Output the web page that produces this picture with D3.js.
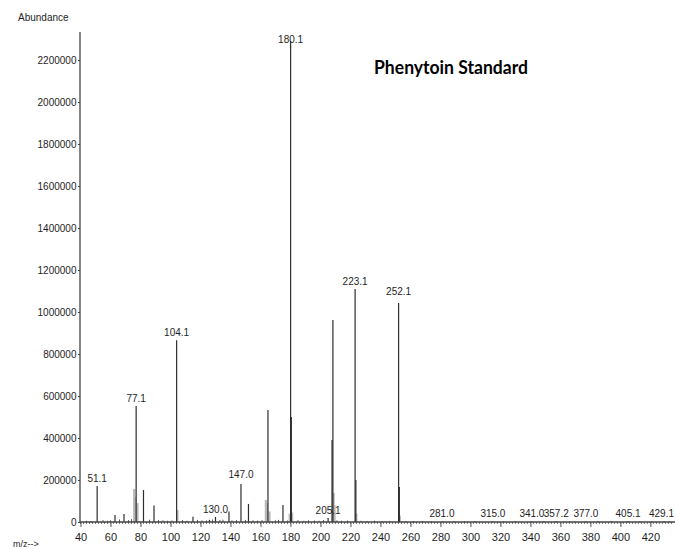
<!DOCTYPE html>
<html><head><meta charset="utf-8">
<script src="https://cdn.jsdelivr.net/npm/d3@7"></script>
<style>
body{margin:0;background:#fff}
svg{display:block}
text{font-family:"Liberation Sans",Arial,sans-serif;fill:#1e1e1e}
</style>
</head><body>
<svg id="c" width="675" height="549"></svg>
<script>
// ---- data ----
const peakMz    = [51.1, 63, 69, 77.1, 82, 89, 104.1, 115, 126, 130.0, 139, 147.0, 152, 165, 175, 180.1, 180.6, 205.1, 207.7, 208.3, 223.1, 223.6, 252.1, 252.6, 281.0, 315.0, 341.0, 357.2, 377.0, 405.1, 429.1];
const peakAbund = [171000, 33000, 38000, 552000, 152000, 78000, 866000, 25000, 10000, 24000, 50000, 181000, 86000, 533000, 81000, 2290000, 500000, 19000, 390000, 962000, 1110000, 200000, 1043000, 167000, 4000, 4000, 4000, 4000, 4000, 4000, 4000];
const labelMz   = [51.1, 77.1, 104.1, 130.0, 147.0, 180.1, 205.1, 223.1, 252.1, 281.0, 315.0, 341.0, 357.2, 377.0, 405.1, 429.1];
const labelAbund= [171000, 552000, 866000, 24000, 190000, 2262000, 19000, 1110000, 1060000, 4000, 4000, 4000, 4000, 4000, 4000, 4000];
const blurMz    = [75.8, 76.6, 78, 104.6, 163.6, 164.4, 166, 179.5, 181.1, 208.8, 209.4, 223.9, 252.9];
const blurAbund = [157000, 120000, 90000, 57000, 105000, 90000, 50000, 40000, 45000, 138000, 80000, 40000, 30000];
const noiseMz   = [44, 47, 55, 58, 60, 66, 72, 74, 86, 92, 95, 98, 101, 108, 111, 118, 121, 124, 128, 133, 135, 141, 144, 150, 155, 158, 161, 170, 172, 178, 185, 189, 192, 196, 199, 202, 211, 214, 218, 227, 231, 236, 241, 246, 257, 262, 268, 274, 289, 296, 303, 322, 330, 349, 366, 385, 394, 413, 421, 433];
const noiseAbund= [6000, 5000, 9000, 6000, 8000, 12000, 9000, 14000, 11000, 9000, 8000, 6000, 7000, 9000, 6000, 10000, 8000, 7000, 12000, 9000, 11000, 8000, 9000, 10000, 8000, 7000, 9000, 8000, 10000, 7000, 9000, 6000, 8000, 7000, 6000, 9000, 8000, 6000, 7000, 6000, 5000, 6000, 5000, 5000, 5000, 4000, 5000, 4000, 4000, 4000, 5000, 4000, 4000, 5000, 4000, 5000, 4000, 4000, 5000, 4000];
const yTicks = [0, 200000, 400000, 600000, 800000, 1000000, 1200000, 1400000, 1600000, 1800000, 2000000, 2200000];
const xTicks = [40, 60, 80, 100, 120, 140, 160, 180, 200, 220, 240, 260, 280, 300, 320, 340, 360, 380, 400, 420];
const title = "Phenytoin Standard";
const yTitle = "Abundance";
const xTitle = "m/z-->";

// ---- scales ----
const W = 675;
const svg = d3.select("#c");
const x = d3.scaleLinear().domain([40, 436.4]).range([80.5, 675]);
const y = d3.scaleLinear().domain([0, 2333333]).range([522, 32]);

// blurred grey bases
svg.append("g").selectAll("line").data(d3.zip(blurMz, blurAbund)).join("line")
  .attr("x1", d => x(d[0])).attr("x2", d => x(d[0]))
  .attr("y1", y(0)).attr("y2", d => y(d[1]))
  .attr("stroke", "#b8b8b8").attr("stroke-width", 2.2);

// noise
svg.append("g").selectAll("line").data(d3.zip(noiseMz, noiseAbund)).join("line")
  .attr("x1", d => x(d[0])).attr("x2", d => x(d[0]))
  .attr("y1", y(0)).attr("y2", d => y(d[1]))
  .attr("stroke", "#555").attr("stroke-width", 1);

// peaks
svg.append("g").selectAll("line").data(d3.zip(peakMz, peakAbund)).join("line")
  .attr("x1", d => x(d[0])).attr("x2", d => x(d[0]))
  .attr("y1", y(0)).attr("y2", d => y(d[1]))
  .attr("stroke", "#2e2e2e").attr("stroke-width", 1.2);

// axes
const yAxis = d3.axisLeft(y).tickValues(yTicks).tickSize(2).tickPadding(1.5).tickFormat(d3.format("d"));
const gy = svg.append("g").attr("transform", "translate(80,0)").call(yAxis);
gy.select(".domain").attr("d", `M0,${y(0)}V32`).attr("stroke", "#444").attr("stroke-width", 1.3);
gy.selectAll("text").attr("font-size", 10).attr("fill", "#1e1e1e").style("font-family", '"Liberation Sans",Arial,sans-serif');
gy.selectAll(".tick line").attr("stroke", "#444");

const minor = d3.range(40, 436, 2);
svg.append("g").selectAll("line").data(minor).join("line")
  .attr("x1", d => x(d)).attr("x2", d => x(d))
  .attr("y1", y(0)).attr("y2", y(0) + 2)
  .attr("stroke", "#555").attr("stroke-width", 0.8);

const xAxis = d3.axisBottom(x).tickValues(xTicks).tickSize(5).tickPadding(6).tickFormat(d3.format("d"));
const gx = svg.append("g").attr("transform", `translate(0,${y(0)})`).call(xAxis);
gx.select(".domain").attr("d", `M80,0H675`).attr("stroke", "#444").attr("stroke-width", 1.3);
gx.selectAll("text").attr("font-size", 11).attr("fill", "#1e1e1e").style("font-family", '"Liberation Sans",Arial,sans-serif');
gx.selectAll(".tick line").attr("stroke", "#555");

// peak labels (kept inside the window)
svg.append("g").selectAll("text").data(d3.zip(labelMz, labelAbund)).join("text")
  .attr("y", d => y(d[1]) - 4)
  .attr("text-anchor", "middle").attr("font-size", 10)
  .text(d => d[0].toFixed(1))
  .attr("x", function(d) {
    const half = this.getComputedTextLength() / 2;
    return Math.min(x(d[0]), W - 1 - half);
  });

// titles
svg.append("text").attr("x", 18).attr("y", 21).attr("font-size", 10).text(yTitle);
svg.append("text").attr("x", 13).attr("y", 547).attr("font-size", 9).text(xTitle);
svg.append("text").attr("x", 374).attr("y", 74)
  .attr("font-size", 18).attr("font-weight", "bold")
  .attr("textLength", 154).attr("lengthAdjust", "spacingAndGlyphs")
  .style("font-family", "Lato, 'Open Sans', sans-serif").style("fill", "#000")
  .text(title);
</script>
</body></html>
